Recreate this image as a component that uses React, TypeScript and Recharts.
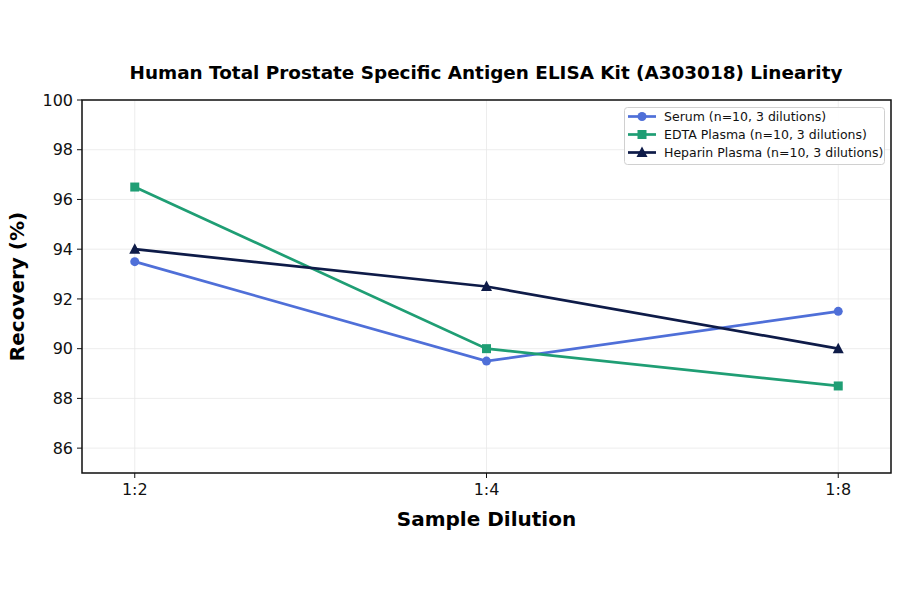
import React from "react";
import {
  LineChart,
  Line,
  XAxis,
  YAxis,
  CartesianGrid,
  ReferenceArea,
} from "recharts";

const categories = ["1:2", "1:4", "1:8"];
const serum = [93.5, 89.5, 91.5];
const edta = [96.5, 90.0, 88.5];
const heparin = [94.0, 92.5, 90.0];
const yTicks = [86, 88, 90, 92, 94, 96, 98, 100];

const seriesNames = [
  "Serum (n=10, 3 dilutions)",
  "EDTA Plasma (n=10, 3 dilutions)",
  "Heparin Plasma (n=10, 3 dilutions)",
];
const colors = ["#4f6fd8", "#1f9e74", "#0e1b48"];
const shapes = ["circle", "square", "triangle"];

const data = categories.map((c, i) => ({
  x: i,
  label: c,
  serum: serum[i],
  edta: edta[i],
  heparin: heparin[i],
}));

const FONT = "'DejaVu Sans', sans-serif";

function Marker({ shape, cx, cy, color }: any) {
  if (cx == null || cy == null) return null;
  if (shape === "circle") return <circle cx={cx} cy={cy} r={4.5} fill={color} />;
  if (shape === "square")
    return <rect x={cx - 4.5} y={cy - 4.5} width={9} height={9} fill={color} />;
  return (
    <polygon
      points={`${cx},${cy - 6} ${cx - 5.5},${cy + 4.5} ${cx + 5.5},${cy + 4.5}`}
      fill={color}
    />
  );
}

const makeDot = (shape: string, color: string) => (props: any) => (
  <Marker key={`${shape}-${props.index}`} shape={shape} cx={props.cx} cy={props.cy} color={color} />
);

function LegendSvg() {
  const rowsY = [116.5, 134.5, 152.5];
  return (
    <g>
      <rect x={624.5} y={107.5} width={260} height={57} rx={3} fill="#fff" fillOpacity={0.9} stroke="#d0d0d0" strokeWidth={1} />
      {seriesNames.map((n, i) => (
        <g key={n}>
          <line x1={628} y1={rowsY[i]} x2={656} y2={rowsY[i]} stroke={colors[i]} strokeWidth={2.7} />
          <Marker shape={shapes[i]} cx={642} cy={rowsY[i]} color={colors[i]} />
          <text
            x={664}
            y={rowsY[i]}
            dy="0.35em"
            style={{ fontFamily: FONT, fontSize: 12.5, fill: "#111" }}
          >
            {n}
          </text>
        </g>
      ))}
    </g>
  );
}

export default function App() {
  return (
    <div style={{ position: "absolute", left: 0, top: 0, width: 900, height: 594, background: "#fff" }}>
      <LineChart
        width={900}
        height={594}
        data={data}
        margin={{ top: 100, right: 9, bottom: 91, left: 22 }}
      >
        <CartesianGrid stroke="#e8e8e8" strokeWidth={0.8} />
        <XAxis
          dataKey="x"
          type="number"
          domain={[-0.15, 2.15]}
          ticks={[0, 1, 2]}
          tickFormatter={(v: number) => categories[v]}
          height={30}
          axisLine={false}
          tickLine={{ stroke: "#111", strokeWidth: 1 }}
          tickSize={5}
          tickMargin={6}
          tick={{ fill: "#111", fontSize: 16, fontFamily: FONT }}
          label={{
            value: "Sample Dilution",
            position: "bottom",
            offset: 9,
            style: { fill: "#000", fontSize: 20, fontWeight: "bold", fontFamily: FONT },
          }}
        />
        <YAxis
          type="number"
          domain={[85, 100]}
          ticks={yTicks}
          width={60}
          axisLine={false}
          tickLine={{ stroke: "#111", strokeWidth: 1 }}
          tickSize={5}
          tickMargin={4}
          tick={{ fill: "#111", fontSize: 16, fontFamily: FONT }}
          label={{
            value: "Recovery (%)",
            angle: -90,
            position: "insideLeft",
            offset: -5,
            style: { textAnchor: "middle", fill: "#000", fontSize: 20, fontWeight: "bold", fontFamily: FONT },
          }}
        />
        <ReferenceArea
          x1={-0.15}
          x2={2.15}
          y1={85}
          y2={100}
          fill="none"
          fillOpacity={0}
          stroke="#111"
          strokeWidth={1.5}
          ifOverflow="visible"
        />
        <Line
          dataKey="serum"
          name={seriesNames[0]}
          stroke={colors[0]}
          strokeWidth={2.7}
          dot={makeDot("circle", colors[0])}
          isAnimationActive={false}
        />
        <Line
          dataKey="edta"
          name={seriesNames[1]}
          stroke={colors[1]}
          strokeWidth={2.7}
          dot={makeDot("square", colors[1])}
          isAnimationActive={false}
        />
        <Line
          dataKey="heparin"
          name={seriesNames[2]}
          stroke={colors[2]}
          strokeWidth={2.7}
          dot={makeDot("triangle", colors[2])}
          isAnimationActive={false}
        />
        <LegendSvg />
        <text
          x={486}
          y={79}
          textAnchor="middle"
          style={{ fontFamily: FONT, fontSize: 18.4, fontWeight: "bold", fill: "#000" }}
        >
          Human Total Prostate Specific Antigen ELISA Kit (A303018) Linearity
        </text>
      </LineChart>
    </div>
  );
}
